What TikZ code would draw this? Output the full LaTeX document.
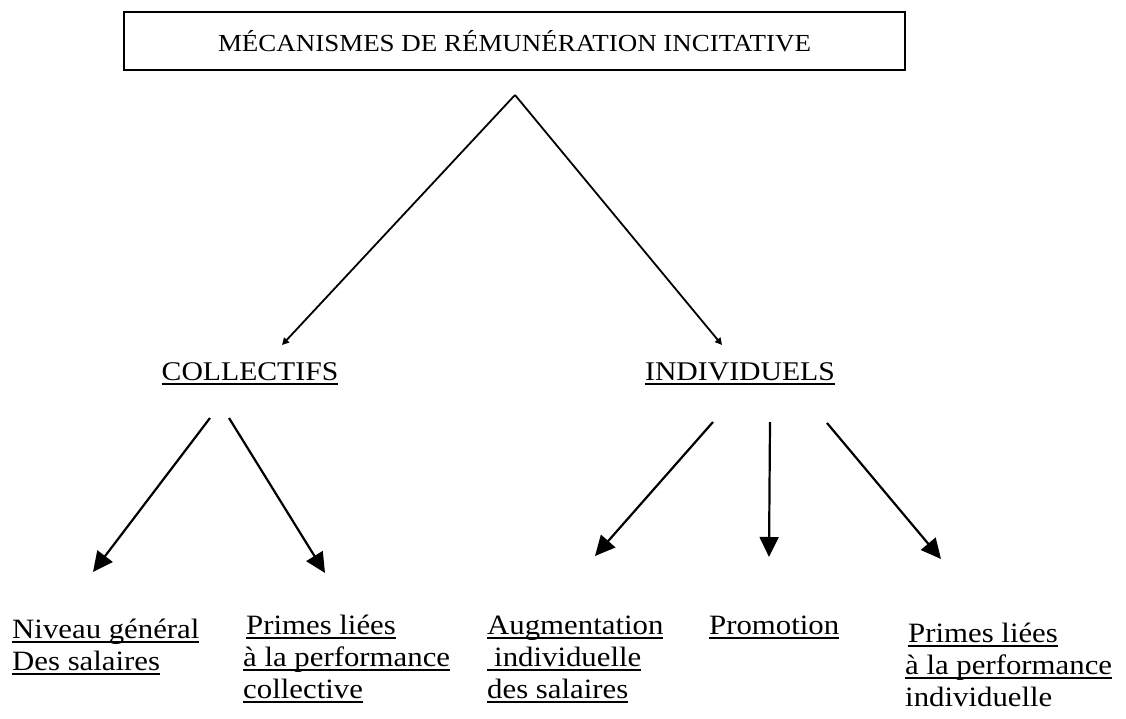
\documentclass[tikz,border=0pt]{standalone}
\usepackage{fontspec}
\setmainfont{Liberation Serif}[FakeStretch=1.1]
\usetikzlibrary{arrows.meta}
\newcommand\myul[1]{\setbox0\hbox{#1}\rlap{\rule[-4.6pt]{\wd0}{1.6pt}}\box0}
\begin{document}
\begin{tikzpicture}[x=1pt,y=-1pt,
  lbl/.style={inner sep=0pt, anchor=base west, font=\fontsize{28}{32}\selectfont},
  mid/.style={inner sep=0pt, anchor=base, font=\fontsize{27}{32}\selectfont},
  conn/.style={line width=2.2pt, -{Triangle[length=20pt,width=19pt]}},
  mainline/.style={line width=1.8pt, -{Triangle[length=7pt,width=7pt]}}]
\useasboundingbox (0,0) rectangle (1126,719);
% title
\node[draw, line width=1.6pt, minimum width=781pt, minimum height=58pt, inner sep=0pt,
      font=\fontsize{24.5}{28}\selectfont] (title) at (514.5,41) {MÉCANISMES DE RÉMUNÉRATION INCITATIVE};
\coordinate (apex) at (515,95);
\coordinate (tipL) at (282,345);
\coordinate (tipR) at (722,345);
\draw[mainline] (apex) -- (tipL);
\draw[mainline] (apex) -- (tipR);
% level 2
\node[mid] (coll) at (250,380) {\myul{COLLECTIFS}};
\node[mid] (indiv) at (740,380) {\myul{INDIVIDUELS}};
% arrows
\coordinate (c1s) at (210,418); \coordinate (c1e) at (93,572);
\coordinate (c2s) at (229,418); \coordinate (c2e) at (325,573);
\coordinate (i1s) at (713,422); \coordinate (i1e) at (595,556);
\coordinate (i2s) at (770,422); \coordinate (i2e) at (769,557);
\coordinate (i3s) at (827,423); \coordinate (i3e) at (941,559);
\draw[conn] (c1s) -- (c1e);
\draw[conn] (c2s) -- (c2e);
\draw[conn] (i1s) -- (i1e);
\draw[conn] (i2s) -- (i2e);
\draw[conn] (i3s) -- (i3e);
% bottom texts
\node[lbl] (a1) at (12,638) {\myul{Niveau général}};
\node[lbl] (a2) at (12,670) {\myul{Des salaires}};
\node[lbl] (b1) at (246,634) {\myul{Primes liées}};
\node[lbl] (b2) at (243,666) {\myul{à la performance}};
\node[lbl] (b3) at (243,698) {\myul{collective}};
\node[lbl] (c1) at (487,634) {\myul{Augmentation}};
\node[lbl] (c2) at (487,666) {\myul{\hspace{7pt}individuelle}};
\node[lbl] (c3) at (487,698) {\myul{des salaires}};
\node[lbl] (d1) at (709,634) {\myul{Promotion}};
\node[lbl] (e1) at (908,642) {\myul{Primes liées}};
\node[lbl] (e2) at (905,674) {\myul{à la performance}};
\node[lbl] (e3) at (905,706) {individuelle};
\end{tikzpicture}
\end{document}
